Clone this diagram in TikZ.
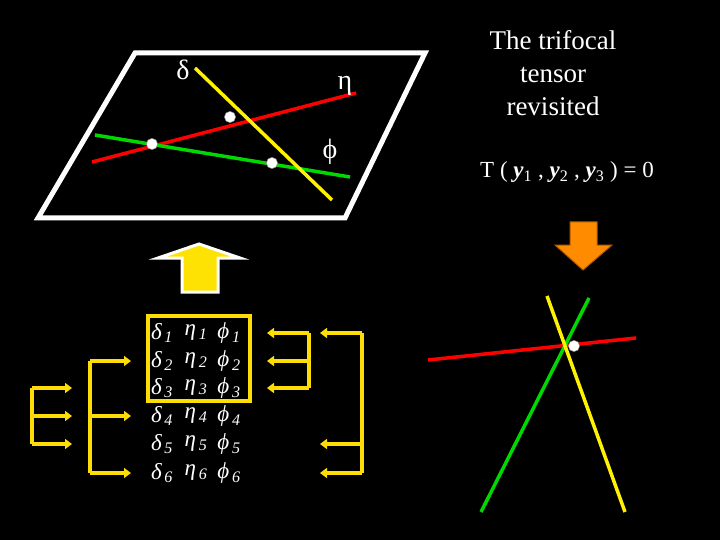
\documentclass[tikz,border=0pt]{standalone}
\usepackage{fontspec}
\setmainfont{Liberation Serif}
\usetikzlibrary{arrows.meta}
\begin{document}
\begin{tikzpicture}[x=1pt,y=-1pt,
 br/.style={draw=yellow!80!orange,line width=3.5pt},
 ar/.style={br,-{Triangle[length=7pt,width=10pt]}},
 ms/.style={text=white,font=\fontsize{23}{26}\selectfont\itshape},
 ln/.style={line width=3.5pt},
 dot/.style={circle,fill=white,draw=gray,inner sep=4pt}]
\fill[black] (0,0) rectangle (720,540);
\useasboundingbox (0,0) rectangle (720,540);
% plane
\draw[white,line width=5pt] (38,218) -- (345,218) -- (425,53) -- (135,53) -- cycle;
\draw[ln,red] (92,162) -- (356,93);
\draw[ln,green!85!black] (95,135) -- (350,177);
\draw[ln,yellow] (195,68) -- (332,200);
\node[dot] (d1) at (152,144) {};
\node[dot] (d2) at (230,117) {};
\node[dot] (d3) at (272,163) {};
\node[text=white,font=\fontsize{28}{30}\selectfont] (ld) at (183,70) {δ};
\node[text=white,font=\fontsize{28}{30}\selectfont] (le) at (345,86) {η};
\node[text=white,font=\fontsize{28}{30}\selectfont] (lp) at (330,152) {ϕ};
% up arrow
\draw[white,line width=3pt,fill=yellow!85!orange] (182,292) -- (182,258) -- (158,258) -- (199,244) -- (240,258) -- (218,258) -- (218,292) -- cycle;
% matrix
\foreach \i/\y in {1/333,2/361,3/388,4/416,5/444,6/473}{
 \node[ms] (a\i) at (162,\y) {δ\textsubscript{\,\i}};
 \node[ms] (b\i) at (196,\y) {η\textsubscript{\,\i}};
 \node[ms] (c\i) at (229,\y) {ϕ\textsubscript{\,\i}};
}
\draw[br] (148,316) rectangle (250,401);
% brackets
\draw[br] (32,388) -- (32,444);
\draw[ar] (32,388) -- (72,388);
\draw[ar] (32,416) -- (72,416);
\draw[ar] (32,444) -- (72,444);
\draw[br] (90,361) -- (90,473);
\draw[ar] (90,361) -- (131,361);
\draw[ar] (90,416) -- (131,416);
\draw[ar] (90,473) -- (131,473);
\draw[br] (309,333) -- (309,388);
\draw[ar] (309,333) -- (267,333);
\draw[ar] (309,361) -- (267,361);
\draw[ar] (309,388) -- (267,388);
\draw[br] (362,333) -- (362,473);
\draw[ar] (362,333) -- (320,333);
\draw[ar] (362,444) -- (320,444);
\draw[ar] (362,473) -- (320,473);
% right
\node[text=white,font=\fontsize{27}{33}\selectfont,align=center] (title) at (553,73) {The trifocal\\tensor\\revisited};
\node[text=white,font=\fontsize{23}{26}\selectfont] (eq) at (567,172) {T ( \textbf{\textit{y}}\textsubscript{1} , \textbf{\textit{y}}\textsubscript{2} , \textbf{\textit{y}}\textsubscript{3} ) = 0};
\draw[orange!70!black,line width=1pt,fill=orange!90!yellow] (570,222) -- (597,222) -- (597,245) -- (612,245) -- (583,270) -- (555,245) -- (570,245) -- cycle;
\draw[ln,red] (428,360) -- (636,338);
\draw[ln,green!85!black] (481,512) -- (589,298);
\draw[ln,yellow] (547,296) -- (625,512);
\node[dot] (dd) at (574,346) {};
\end{tikzpicture}
\end{document}
